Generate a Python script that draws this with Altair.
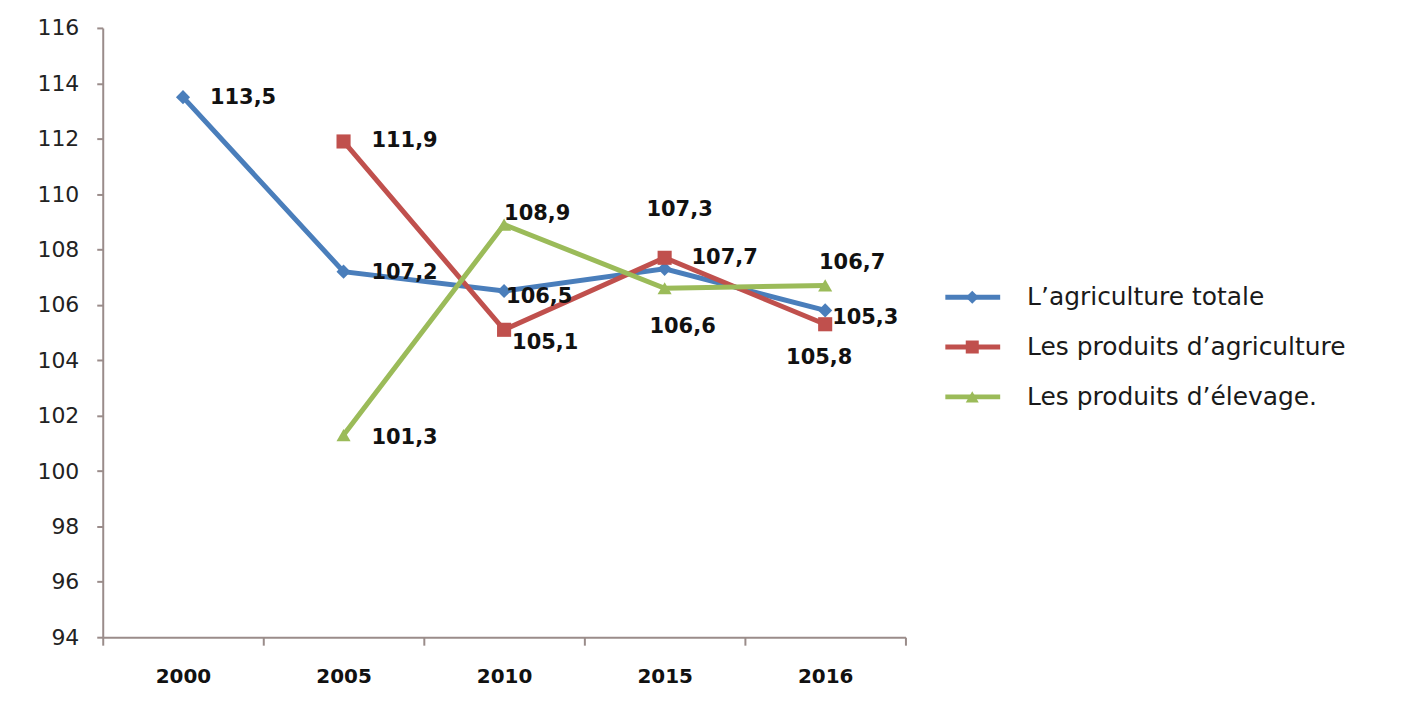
import altair as alt
import pandas as pd

years = ["2000", "2005", "2010", "2015", "2016"]
series = ["L’agriculture totale", "Les produits d’agriculture", "Les produits d’élevage."]
totale = [113.5, 107.2, 106.5, 107.3, 105.8]
agriculture = [None, 111.9, 105.1, 107.7, 105.3]
elevage = [None, 101.3, 108.9, 106.6, 106.7]

colors = ["#4a7ebb", "#c0504d", "#9bbb59"]
shapes = ["diamond", "square", "triangle-up"]

rows = []
for s, vals in zip(series, [totale, agriculture, elevage]):
    for y, v in zip(years, vals):
        if v is not None:
            rows.append({"year": y, "series": s, "value": v,
                         "label": f"{v:.1f}".replace(".", ",")})
df = pd.DataFrame(rows)

# label placement (dx, dy, align) per series / year – layout only
label_style = {
    (series[0], "2000"): (27, 1, "left"),
    (series[0], "2005"): (28, 1, "left"),
    (series[0], "2010"): (2, 6, "left"),
    (series[0], "2015"): (15, -59, "center"),
    (series[0], "2016"): (-6, 48, "center"),
    (series[1], "2005"): (28, 0, "left"),
    (series[1], "2010"): (8, 13, "left"),
    (series[1], "2015"): (27, 0, "left"),
    (series[1], "2016"): (7, -6, "left"),
    (series[2], "2005"): (28, 3, "left"),
    (series[2], "2010"): (0, -11, "left"),
    (series[2], "2015"): (18, 39, "center"),
    (series[2], "2016"): (27, -23, "center"),
}

axis_color = "#9a8c8a"
x_enc = alt.X("year:N", sort=years, title=None,
              scale=alt.Scale(type="band", padding=0),
              axis=alt.Axis(tickBand="extent", labelAngle=0, labelFont="DejaVu Sans",
                            labelFontWeight="bold", labelFontSize=20, labelColor="#111111",
                            domainColor=axis_color, domainWidth=2, tickColor=axis_color,
                            tickWidth=2, tickSize=8, labelPadding=21))
y_enc = alt.Y("value:Q", title=None,
              scale=alt.Scale(domain=[94, 116], nice=False, zero=False),
              axis=alt.Axis(values=list(range(94, 117, 2)), grid=False,
                            labelFont="DejaVu Sans", labelFontSize=22, labelColor="#222222",
                            domainColor=axis_color, domainWidth=2, tickColor=axis_color,
                            tickWidth=2, tickSize=6, labelPadding=18))
color_enc = alt.Color("series:N", scale=alt.Scale(domain=series, range=colors), legend=None)
shape_enc = alt.Shape("series:N", scale=alt.Scale(domain=series, range=shapes), legend=None)

base = alt.Chart(df)
lines = base.mark_line(strokeWidth=5).encode(x=x_enc, y=y_enc, color=color_enc)
points = base.mark_point(filled=True, size=200, opacity=1).encode(
    x=x_enc, y=y_enc, color=color_enc, shape=shape_enc)

layers = [lines, points]
for (s, yr), (dx, dy, al) in label_style.items():
    layers.append(
        base.transform_filter((alt.datum.series == s) & (alt.datum.year == yr))
        .mark_text(dx=dx, dy=dy, align=al, baseline="middle", font="DejaVu Sans",
                   fontWeight="bold", fontSize=21, color="#111111")
        .encode(x=x_enc, y=y_enc, text="label:N")
    )

# manual legend
leg_df = pd.DataFrame({"series": series, "row": [0, 1, 2]})
leg_y = alt.Y("row:Q", scale=alt.Scale(domain=[0, 2], range=[270, 370], nice=False, zero=False),
              axis=None)
leg_base = alt.Chart(leg_df)
leg_rule = leg_base.mark_rule(strokeWidth=5).encode(
    x=alt.value(845), x2=alt.value(900), y=leg_y, color=color_enc)
leg_pt = leg_base.mark_point(filled=True, size=170, opacity=1).encode(
    x=alt.value(872), y=leg_y, color=color_enc, shape=shape_enc)
leg_txt = leg_base.mark_text(align="left", baseline="middle", font="DejaVu Sans",
                             fontSize=25, color="#1a1a1a").encode(
    x=alt.value(927), y=leg_y, text="series:N")
legend = alt.layer(leg_rule, leg_pt, leg_txt)

main = alt.layer(*layers)
chart = alt.layer(main, legend).resolve_scale(y="independent").properties(
    width=805, height=611,
    background="white",
    autosize=alt.AutoSizeParams(type="none"),
    padding={"left": 95, "top": 19, "right": 510, "bottom": 60},
).configure_view(strokeWidth=0, stroke="transparent")

chart.save("out.html", embed_options={"renderer": "svg", "actions": False})
